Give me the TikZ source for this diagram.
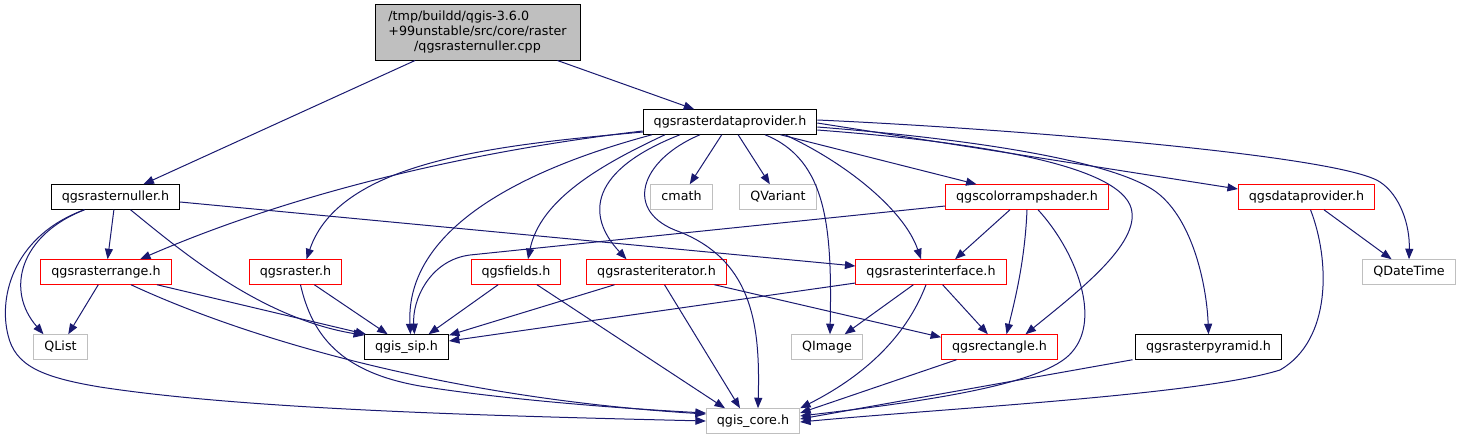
\documentclass[tikz,border=0pt]{standalone}
\usepackage{fontspec}
\setmainfont{DejaVu Sans}
\usetikzlibrary{arrows.meta}
\definecolor{edgec}{HTML}{191970}
\definecolor{gryc}{HTML}{BFBFBF}
\begin{document}
\begin{tikzpicture}[x=1pt,y=-1pt,font=\fontsize{12.7}{15}\selectfont,
  nb/.style={line width=1pt,inner xsep=10.5pt,inner ysep=0pt,minimum height=24.5pt,text height=9.6pt,text depth=3pt},
  blk/.style={nb,draw=black},
  redn/.style={nb,draw=red},
  gryn/.style={nb,draw=gryc},
  rootn/.style={draw=black,fill=gryc,line width=1pt,align=center,minimum width=205pt,minimum height=56pt,inner sep=0pt},
  dep/.style={draw=edgec,line width=1pt,-{Triangle[length=10.5pt,width=8pt]}}]
\useasboundingbox (0,0) rectangle (1462,440);
\node[rootn] (root) at (477.5,32) {\rlap{/tmp/buildd/qgis-3.6.0}\hphantom{+99unstable/src/core/raster}\\+99unstable/src/core/raster\\/qgsrasternuller.cpp};
\node[blk] (qrdp) at (730,122) {qgsrasterdataprovider.h};
\node[blk] (nuller) at (115.5,197) {qgsrasternuller.h};
\node[gryn] (cmath) at (681.5,197) {cmath};
\node[gryn] (qvariant) at (778,197) {QVariant};
\node[redn] (ramp) at (1027,197) {qgscolorrampshader.h};
\node[redn] (dprov) at (1306.5,197) {qgsdataprovider.h};
\node[redn] (range) at (106,272) {qgsrasterrange.h};
\node[redn] (raster) at (295.5,272) {qgsraster.h};
\node[redn] (fields) at (516,272) {qgsfields.h};
\node[redn] (iter) at (656.5,272) {qgsrasteriterator.h};
\node[redn] (iface) at (931,272) {qgsrasterinterface.h};
\node[gryn] (qdt) at (1409,272) {QDateTime};
\node[gryn] (qlist) at (60.5,347) {QList};
\node[blk] (sip) at (406.5,347) {qgis\_sip.h};
\node[gryn] (qimage) at (827,347) {QImage};
\node[redn] (rect) at (999.5,347) {qgsrectangle.h};
\node[blk] (pyr) at (1208.5,347) {qgsrasterpyramid.h};
\node[gryn] (core) at (753,421) {qgis\_core.h};
% root
\draw[dep] (root) -- (qrdp);
\draw[dep] (root) -- (nuller);
% nuller
\draw[dep] (nuller) -- (range);
\draw[dep] ([xshift=-31pt]nuller.south) .. controls (20,235) and (5,290) .. ([xshift=-17pt]qlist.north);
\draw[dep] ([xshift=-31pt]nuller.south) .. controls (15,235) and (-2,295) .. (8,335) .. controls (15,365) and (40,377) .. (100,387) .. controls (250,410) and (500,416) .. (core.west);
\draw[dep] ([xshift=15pt]nuller.south) .. controls (180,250) and (260,318) .. ([yshift=-1pt]sip.north west);
\draw[dep] ([yshift=-5pt]nuller.east) -- ([yshift=6pt]iface.west);
% qrdp
\draw[dep] ([yshift=-9pt]qrdp.west) .. controls (480,150) and (300,190) .. ([xshift=34pt]range.north);
\draw[dep] ([yshift=-10pt]qrdp.west) .. controls (500,145) and (340,160) .. ([xshift=11pt]raster.north);
\draw[dep] ([xshift=-78pt]qrdp.south) .. controls (520,170) and (405,230) .. ([xshift=4pt]sip.north);
\draw[dep] ([xshift=-65pt]qrdp.south) .. controls (600,165) and (540,200) .. ([xshift=12pt]fields.north);
\draw[dep] ([xshift=-50pt]qrdp.south) .. controls (590,170) and (585,215) .. ([xshift=-30pt]iter.north);
\draw[dep] ([xshift=-30pt]qrdp.south) .. controls (640,160) and (622,212) .. (680,232) .. controls (755,262) and (760,330) .. ([xshift=5pt]core.north);
\draw[dep] (qrdp) -- (cmath);
\draw[dep] (qrdp) -- (qvariant);
\draw[dep] ([xshift=35pt]qrdp.south) .. controls (828,160) and (832,230) .. ([xshift=3pt]qimage.north);
\draw[dep] ([xshift=55pt]qrdp.south) .. controls (850,165) and (905,212) .. ([xshift=-10pt]iface.north);
\draw[dep] (qrdp) -- (ramp);
\draw[dep] ([yshift=-8pt]qrdp.east) .. controls (950,140) and (1110,160) .. (1130,205) .. controls (1145,240) and (1080,290) .. ([xshift=26pt]rect.north);
\draw[dep] ([yshift=-5pt]qrdp.east) .. controls (960,138) and (1120,160) .. (1160,195) .. controls (1195,225) and (1207,290) .. (pyr.north);
\draw[dep] ([yshift=-1pt]qrdp.east) -- ([yshift=8pt]dprov.west);
\draw[dep] ([yshift=2pt]qrdp.east) .. controls (1000,128) and (1340,155) .. (1380,182) .. controls (1400,195) and (1410,225) .. (qdt.north);
% colorrampshader
\draw[dep] ([yshift=-9pt]ramp.west) -- (470,255) .. controls (430,260) and (412,300) .. ([xshift=8pt]sip.north);
\draw[dep] ([xshift=-17pt]ramp.south) -- ([xshift=24pt]iface.north);
\draw[dep] (ramp.south) .. controls (1025,260) and (1015,300) .. ([xshift=7pt]rect.north);
\draw[dep] ([xshift=11pt]ramp.south) .. controls (1075,250) and (1102,318) .. (1072,352) .. controls (1045,385) and (920,402) .. ([yshift=5pt]core.east);
% dataprovider
\draw[dep] (dprov) -- (qdt);
\draw[dep] ([xshift=4pt]dprov.south) .. controls (1330,260) and (1332,340) .. (1280,370) .. controls (1200,395) and (950,408) .. ([yshift=-1pt]core.east);
% range
\draw[dep] (range) -- (qlist);
\draw[dep] ([xshift=51pt]range.south) -- ([xshift=2pt]sip.north west);
\draw[dep] ([xshift=25pt]range.south) .. controls (250,340) and (450,398) .. ([yshift=7pt]core.west);
% raster
\draw[dep] (raster) -- (sip);
\draw[dep] ([xshift=5pt]raster.south) .. controls (312,335) and (340,372) .. (420,386) .. controls (520,402) and (650,410) .. ([yshift=8pt]core.west);
% fields
\draw[dep] (fields) -- ([xshift=22pt]sip.north);
\draw[dep] ([xshift=21pt]fields.south) -- ([xshift=-28pt]core.north);
% iterator
\draw[dep] ([xshift=-42pt]iter.south) -- ([yshift=-1pt]sip.north east);
\draw[dep] ([xshift=8pt]iter.south) -- ([xshift=-13pt]core.north);
\draw[dep] ([xshift=58pt]iter.south) -- ([yshift=-3pt]rect.north west);
% interface
\draw[dep] ([yshift=-11pt]iface.west) -- ([yshift=6pt]sip.east);
\draw[dep] (iface) -- (qimage);
\draw[dep] (iface) -- (rect);
\draw[dep] ([xshift=-5pt]iface.south) .. controls (905,340) and (860,378) .. (core.north east);
% rectangle, pyramid
\draw[dep] ([xshift=-43pt]rect.south) -- ([yshift=8pt]core.east);
\draw[dep] ([xshift=-76pt]pyr.south) -- ([yshift=2pt]core.east);
\end{tikzpicture}
\end{document}
